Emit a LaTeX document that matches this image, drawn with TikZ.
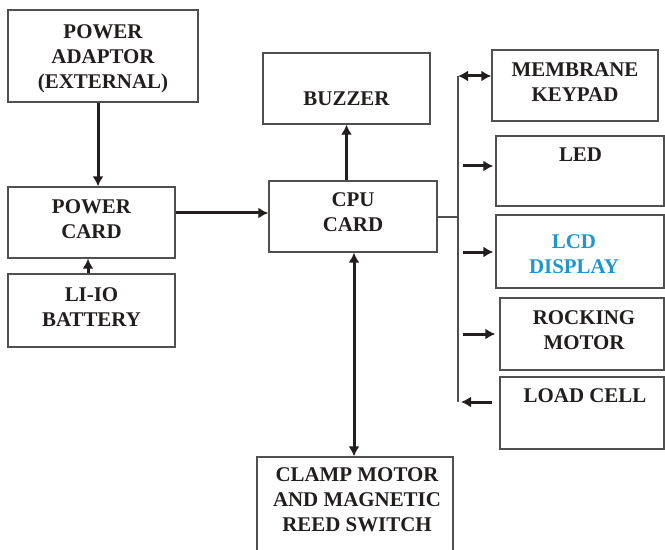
\documentclass[tikz,border=0pt]{standalone}
\usepackage{fontspec}
\setmainfont{Liberation Serif}
\usetikzlibrary{arrows.meta}
\definecolor{boxline}{RGB}{80,80,80}
\definecolor{ink}{RGB}{35,30,30}
\definecolor{lcdblue}{RGB}{30,150,210}
\tikzset{
  blk/.style={draw=boxline, line width=1.3bp, rectangle, inner sep=0pt},
  lbl/.style={inner sep=0pt, align=center, text=ink, font=\bfseries\fontsize{21}{25}\selectfont},
  arr/.style={draw=ink, line width=3bp, -{Latex[length=10bp,width=11bp]}},
  dblarr/.style={draw=ink, line width=3bp, {Latex[length=10bp,width=11bp]}-{Latex[length=10bp,width=11bp]}},
  bus/.style={draw=boxline, line width=1.3bp}
}
\begin{document}
\begin{tikzpicture}[x=1bp,y=-1bp]
\useasboundingbox[fill=white] (0,0) rectangle (665,550);
% boxes
\node[blk, minimum width=190bp, minimum height=92bp] (adaptor) at (103,56) {};
\node[blk, minimum width=167bp, minimum height=71bp] (pcard) at (91.5,222.5) {};
\node[blk, minimum width=167bp, minimum height=73bp] (battery) at (91.5,310.5) {};
\node[blk, minimum width=167bp, minimum height=71bp] (buzzer) at (346.5,88.5) {};
\node[blk, minimum width=168bp, minimum height=71bp] (cpu) at (353,216.5) {};
\node[blk, minimum width=166bp, minimum height=71bp] (keypad) at (575,85.5) {};
\node[blk, minimum width=168bp, minimum height=70bp] (led) at (580,171) {};
\node[blk, minimum width=168bp, minimum height=73bp] (lcd) at (580,251.5) {};
\node[blk, minimum width=164bp, minimum height=72bp] (rocking) at (582,334) {};
\node[blk, minimum width=164bp, minimum height=72bp] (loadcell) at (582,413) {};
\node[blk, minimum width=196bp, minimum height=99bp] (clamp) at (355,506.5) {};
% texts
\node[lbl] (adaptorT) at (103,59) {POWER\\ADAPTOR\\(EXTERNAL)};
\node[lbl] (pcardT) at (91.5,219) {POWER\\CARD};
\node[lbl] (batteryT) at (91.5,307.5) {LI-IO\\BATTERY};
\node[lbl] (buzzerT) at (346.5,98.5) {BUZZER};
\node[lbl] (cpuT) at (353,212) {CPU\\CARD};
\node[lbl] (keypadT) at (575,82) {MEMBRANE\\KEYPAD};
\node[lbl] (ledT) at (580.5,155) {LED};
\node[lbl, text=lcdblue] (lcdT) at (574,254) {LCD\\DISPLAY};
\node[lbl] (rockingT) at (584,330) {ROCKING\\MOTOR};
\node[lbl] (loadcellT) at (585,396) {LOAD CELL};
\node[lbl] (clampT) at (357,500) {CLAMP MOTOR\\AND MAGNETIC\\REED SWITCH};
% bus coordinates
\coordinate (cpuOut) at (437,217);
\coordinate (busMid) at (458,217);
\coordinate (busTop) at (458,76);
\coordinate (busBot) at (458,402);
\coordinate (ledS) at (463,166);
\coordinate (lcdS) at (463,252);
\coordinate (rockS) at (463,334);
\coordinate (loadS) at (492,402);
% connectors
\draw[arr] (98,0 |- adaptor.south) -- (98,0 |- pcard.north);
\draw[arr] (88,0 |- battery.north) -- (88,0 |- pcard.south);
\draw[arr] (pcard.east |- 0,213) -- (cpu.west |- 0,213);
\draw[arr] (cpu.north -| buzzer.south) -- (buzzer.south);
\draw[dblarr] (354,0 |- cpu.south) -- (354,0 |- clamp.north);
\draw[bus] (cpuOut) -- (busMid);
\draw[bus] (busTop) -- (busBot);
\draw[dblarr] (busTop) -- (busTop -| keypad.west);
\draw[arr] (ledS) -- ([xshift=-2bp]ledS -| led.west);
\draw[arr] (lcdS) -- ([xshift=-2bp]lcdS -| lcd.west);
\draw[arr] (rockS) -- ([xshift=-4bp]rockS -| rocking.west);
\draw[arr] (loadS) -- ([xshift=3bp]busBot);
\end{tikzpicture}
\end{document}
